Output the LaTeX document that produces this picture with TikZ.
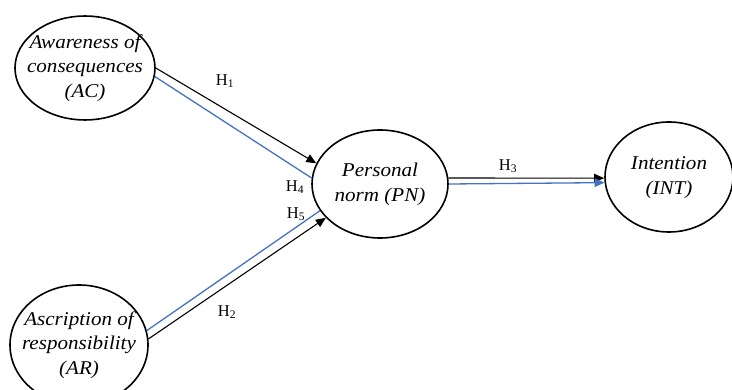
\documentclass[tikz,border=0pt]{standalone}
\usepackage{fontspec}
\setmainfont{Liberation Serif}
\newfontfamily\ellfont[FakeStretch=1.08]{Liberation Serif}
\usetikzlibrary{arrows.meta,shapes.geometric}
\definecolor{lblue}{RGB}{68,114,196}
\newcommand\elltext[1]{\makebox[0pt][c]{\begin{tabular}{@{}c@{}}#1\end{tabular}}}
\begin{document}
\begin{tikzpicture}[x=1pt,y=-1pt,
  construct/.style={draw=black,line width=1.6pt,ellipse,inner sep=0pt,
    font=\ellfont\fontsize{19.5}{24.5}\selectfont\itshape},
  blk/.style={draw=black,line width=1.1pt},
  blu/.style={draw=lblue,line width=1.3pt},
  tip/.style={-{Triangle[length=10pt,width=8.5pt]}},
  hlab/.style={font=\fontsize{16.5}{18}\selectfont,inner sep=0pt}]
\useasboundingbox (0,0) rectangle (732,390);
\node[construct,minimum width=140pt,minimum height=100pt] (ac) at (85,68) {\elltext{Awareness of\\consequences\\(AC)}};
\node[construct,minimum width=138pt,minimum height=120pt] (ar) at (79,345) {\elltext{Ascription of\\responsibility\\(AR)}};
\node[construct,minimum width=136pt,minimum height=108pt] (pn) at (380,184) {\elltext{Personal\\norm (PN)}};
\node[construct,minimum width=128pt,minimum height=110pt] (int) at (669,177) {\elltext{Intention\\(INT)}};
\draw[blk,tip] (ac.0) -- (pn.162);
\draw[blu] (ac.-7.5) -- (pn.175);
\draw[blk,tip] (ar.5.5) -- (pn.212);
\draw[blu] (ar.12) -- (pn.204);
\draw[blk,tip] (pn.5) -- (int.181);
\draw[blu,tip] (pn.0) -- (int.185);
\node[hlab] (h1) at (225,81) {H\textsubscript{1}};
\node[hlab] (h4) at (295,187) {H\textsubscript{4}};
\node[hlab] (h5) at (296,214) {H\textsubscript{5}};
\node[hlab] (h2) at (227,312) {H\textsubscript{2}};
\node[hlab] (h3) at (508,166) {H\textsubscript{3}};
\end{tikzpicture}
\end{document}
